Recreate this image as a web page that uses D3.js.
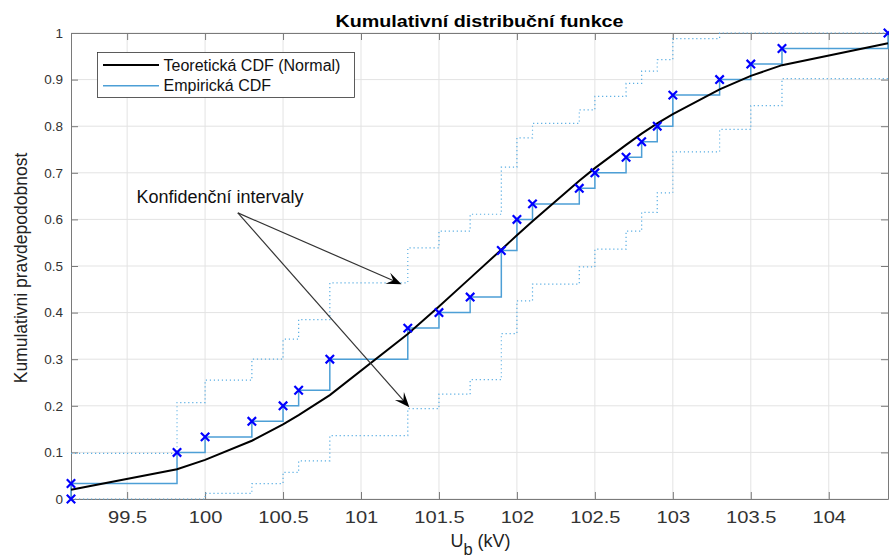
<!DOCTYPE html>
<html>
<head>
<meta charset="utf-8">
<script src="https://cdn.jsdelivr.net/npm/d3@7"></script>
<style>
  body { margin: 0; background: #fff; }
  text { font-family: "Liberation Sans", Arial, sans-serif; }
</style>
</head>
<body>
<div id="chart"></div>
<script>
    // sorted unique voltages (kV) and the values read at each of them
    const cdfX = [99.14, 99.82, 100, 100.3, 100.5, 100.6, 100.8, 101.3, 101.5, 101.7, 101.9, 102,
        102.1, 102.4, 102.5, 102.7, 102.8, 102.9, 103, 103.3, 103.5, 103.7, 104.38]
    const empF = [0.0333, 0.1, 0.1333, 0.1667, 0.2, 0.2333, 0.3, 0.3667, 0.4, 0.4333, 0.5333, 0.6,
        0.6333, 0.6667, 0.7, 0.7333, 0.7667, 0.8, 0.8667, 0.9, 0.9333, 0.9667, 1]
    const theoF = [0.020, 0.064, 0.084, 0.125, 0.160, 0.180, 0.223, 0.354, 0.413, 0.474, 0.535, 0.566,
        0.596, 0.683, 0.710, 0.760, 0.784, 0.806, 0.826, 0.879, 0.908, 0.931, 0.978]
    const upperF = [0.098, 0.207, 0.255, 0.300, 0.343, 0.385, 0.464, 0.539, 0.575, 0.611, 0.712, 0.775,
        0.806, 0.835, 0.864, 0.892, 0.918, 0.943, 0.988, 1, 1, 1, null]
    const lowerF = [0, 0, 0.012, 0.033, 0.057, 0.082, 0.136, 0.194, 0.225, 0.256, 0.355, 0.425,
        0.461, 0.498, 0.536, 0.575, 0.615, 0.657, 0.745, 0.793, 0.844, 0.902, null]

    const xTicks = [99.5, 100, 100.5, 101, 101.5, 102, 102.5, 103, 103.5, 104]
    const yTicks = [0, 0.1, 0.2, 0.3, 0.4, 0.5, 0.6, 0.7, 0.8, 0.9, 1]

    const w = 889;
    const h = 557;
    const m = { left: 71, right: 888, top: 33, bottom: 499 }
    const empColor = "#4d9fd6"

    const x = d3.scaleLinear().domain([99.14, 104.38]).range([m.left, m.right])
    const y = d3.scaleLinear().domain([0, 1]).range([m.bottom, m.top])

    const svg = d3.select("#chart")
        .append("svg")
        .attr("width", w)
        .attr("height", h)

    svg.append("rect").attr("width", w).attr("height", h).attr("fill", "#fff")

    // grid
    svg.append("g")
        .selectAll("line.gx")
        .data(xTicks)
        .enter()
        .append("line")
        .attr("x1", d => x(d)).attr("x2", d => x(d))
        .attr("y1", m.top).attr("y2", m.bottom)
        .attr("stroke", "#e3e3e3")
    svg.append("g")
        .selectAll("line.gy")
        .data(yTicks)
        .enter()
        .append("line")
        .attr("y1", d => y(d)).attr("y2", d => y(d))
        .attr("x1", m.left).attr("x2", m.right)
        .attr("stroke", "#e3e3e3")

    // axes (ticks point inwards, box on)
    function styleAxis(g) {
        g.selectAll("path, line").attr("stroke", "#7a7a7a")
        g.selectAll("text").attr("fill", "#333").attr("font-family", "Liberation Sans, Arial, sans-serif")
    }

    const xAxis = svg.append("g")
        .attr("transform", `translate(0,${m.bottom})`)
        .call(d3.axisBottom(x).tickValues(xTicks).tickSizeInner(-7).tickSizeOuter(0).tickPadding(12)
            .tickFormat(d3.format("")))
        .call(styleAxis)
    xAxis.selectAll("text")
        .attr("font-size", 16.5)
        .attr("transform", "scale(1.22,1)")

    svg.append("g")
        .attr("transform", `translate(0,${m.top})`)
        .call(d3.axisTop(x).tickValues(xTicks).tickSizeInner(-7).tickSizeOuter(0).tickFormat(""))
        .call(styleAxis)

    svg.append("g")
        .attr("transform", `translate(${m.left},0)`)
        .call(d3.axisLeft(y).tickValues(yTicks).tickSizeInner(-7).tickSizeOuter(0).tickPadding(8)
            .tickFormat(d3.format("")))
        .call(styleAxis)
        .selectAll("text")
        .attr("font-size", 13.5)

    svg.append("g")
        .attr("transform", `translate(${m.right},0)`)
        .call(d3.axisRight(y).tickValues(yTicks).tickSizeInner(-7).tickSizeOuter(0).tickFormat(""))
        .call(styleAxis)

    // confidence bounds (dotted stairs)
    function boundPoints(vals) {
        const pts = []
        for (let i = 0; i < vals.length - 1; i++) pts.push([cdfX[i], vals[i]])
        pts.push([cdfX[cdfX.length - 1], vals[vals.length - 2]])
        return pts
    }
    const stair = d3.line()
        .x(d => x(d[0]))
        .y(d => y(d[1]))
        .curve(d3.curveStepAfter)

    ;[upperF, lowerF].forEach(b => {
        svg.append("path")
            .attr("d", stair(boundPoints(b)))
            .attr("fill", "none")
            .attr("stroke", "#5aaee3")
            .attr("stroke-width", 1.2)
            .attr("stroke-dasharray", "1.2,2.8")
    })

    // empirical CDF
    const empPts = [[cdfX[0], 0]].concat(cdfX.map((d, i) => [d, empF[i]]))
    svg.append("path")
        .attr("d", stair(empPts))
        .attr("fill", "none")
        .attr("stroke", empColor)
        .attr("stroke-width", 1.5)

    // theoretical CDF
    svg.append("path")
        .attr("d", d3.line().x((d, i) => x(d)).y((d, i) => y(theoF[i]))(cdfX))
        .attr("fill", "none")
        .attr("stroke", "#000")
        .attr("stroke-width", 2)

    // x markers
    svg.append("g")
        .selectAll("path")
        .data(empPts)
        .enter()
        .append("path")
        .attr("d", d => {
            const cx = x(d[0]), cy = y(d[1]), s = 4.2
            return `M${cx - s},${cy - s}L${cx + s},${cy + s}M${cx - s},${cy + s}L${cx + s},${cy - s}`
        })
        .attr("stroke", "#0000ff")
        .attr("stroke-width", 2.2)

    // annotation with two arrows
    const annStart = [100.21, 0.614]
    const annTips = [[101.26, 0.461], [101.31, 0.197]]
    svg.append("text")
        .attr("x", x(99.56))
        .attr("y", y(0.635))
        .attr("font-size", 18)
        .attr("fill", "#111")
        .text("Konfidenční intervaly")

    annTips.forEach(t => {
        const x0 = x(annStart[0]), y0 = y(annStart[1]), x1 = x(t[0]), y1 = y(t[1])
        const ang = Math.atan2(y1 - y0, x1 - x0) * 180 / Math.PI
        svg.append("line")
            .attr("x1", x0).attr("y1", y0)
            .attr("x2", x1 - 8 * Math.cos(ang * Math.PI / 180))
            .attr("y2", y1 - 8 * Math.sin(ang * Math.PI / 180))
            .attr("stroke", "#333")
            .attr("stroke-width", 1.2)
        svg.append("path")
            .attr("d", "M0,0L-15,-6L-9,0L-15,6Z")
            .attr("transform", `translate(${x1},${y1}) rotate(${ang})`)
            .attr("fill", "#000")
    })

    // title and labels
    svg.append("text")
        .attr("transform", `translate(${(m.left + m.right) / 2},26.5) scale(1.16,1)`)
        .attr("text-anchor", "middle")
        .attr("font-size", 17)
        .attr("font-weight", "bold")
        .attr("fill", "#000")
        .text("Kumulativní distribuční funkce")

    svg.append("text")
        .attr("transform", `translate(27,${(m.top + m.bottom) / 2 + 2}) rotate(-90)`)
        .attr("text-anchor", "middle")
        .attr("font-size", 17.5)
        .attr("fill", "#222")
        .text("Kumulativni pravdepodobnost")

    const xl = svg.append("text")
        .attr("x", (m.left + m.right) / 2 + 1)
        .attr("y", 546.5)
        .attr("text-anchor", "middle")
        .attr("font-size", 18)
        .attr("fill", "#222")
    xl.append("tspan").text("U")
    xl.append("tspan").attr("dy", 8).attr("font-size", 16.5).text("b")
    xl.append("tspan").attr("dy", -8).text(" (kV)")

    // legend
    const lg = svg.append("g")
    lg.append("rect")
        .attr("x", 97.5).attr("y", 52.5)
        .attr("width", 257).attr("height", 45)
        .attr("fill", "#fff")
        .attr("stroke", "#333")
        .attr("stroke-width", 0.8)
    const legItems = [["Teoretická CDF (Normal)", "#000", 2], ["Empirická CDF", empColor, 1.5]]
    legItems.forEach((it, i) => {
        const ly = 65 + i * 20.7
        lg.append("line")
            .attr("x1", 103).attr("x2", 159)
            .attr("y1", ly).attr("y2", ly)
            .attr("stroke", it[1])
            .attr("stroke-width", it[2])
        lg.append("text")
            .attr("x", 163.5).attr("y", ly + 5.7)
            .attr("font-size", 16)
            .attr("fill", "#111")
            .text(it[0])
    })
</script>
</body>
</html>
